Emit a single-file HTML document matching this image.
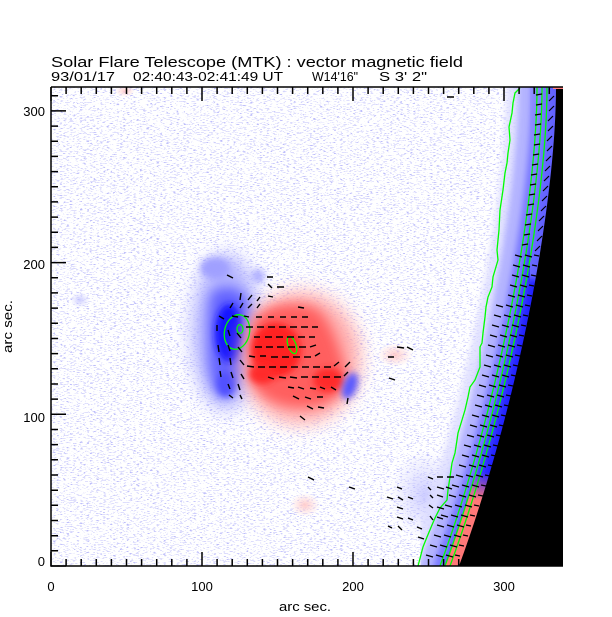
<!DOCTYPE html>
<html><head><meta charset="utf-8"><style>html,body{margin:0;padding:0;background:#fff}svg{display:block}</style></head>
<body>
<svg width="612" height="617" viewBox="0 0 612 617" xmlns="http://www.w3.org/2000/svg" font-family="'Liberation Sans', sans-serif">
<defs>
 <clipPath id="pc"><rect x="51" y="87" width="512" height="479"/></clipPath>
 <clipPath id="rc"><rect x="51" y="470" width="512" height="96"/></clipPath>
 <filter id="nz" filterUnits="userSpaceOnUse" x="51" y="87" width="512" height="479" color-interpolation-filters="sRGB">
  <feTurbulence type="fractalNoise" baseFrequency="0.3 1.1" numOctaves="2" seed="7"/>
  <feColorMatrix type="matrix" values="0 0 0 0 0.74  0 0 0 0 0.74  0 0 0 0 0.98  10 0 0 0 -5.9"/>
 </filter>
 <filter id="bl" x="-30%" y="-5%" width="160%" height="110%"><feGaussianBlur stdDeviation="3"/></filter>
 <filter id="b3" x="-50%" y="-50%" width="200%" height="200%"><feGaussianBlur stdDeviation="3.5"/></filter>
 <filter id="b5" x="-50%" y="-50%" width="200%" height="200%"><feGaussianBlur stdDeviation="6"/></filter>
 <filter id="b8" x="-50%" y="-50%" width="200%" height="200%"><feGaussianBlur stdDeviation="9"/></filter>
 <radialGradient id="gBL"><stop offset="0" stop-color="#c0c0ff" stop-opacity=".8"/><stop offset="1" stop-color="#d0d0ff" stop-opacity="0"/></radialGradient>
 <radialGradient id="gRL"><stop offset="0" stop-color="#ffc0c0" stop-opacity=".8"/><stop offset="1" stop-color="#ffd0d0" stop-opacity="0"/></radialGradient>
 <linearGradient id="gRS" gradientUnits="userSpaceOnUse" x1="0" y1="472" x2="0" y2="500"><stop offset="0" stop-color="#ff7878" stop-opacity="0"/><stop offset="1" stop-color="#ff7878"/></linearGradient>
</defs>

<rect x="0" y="0" width="612" height="617" fill="#fff"/>
<rect x="51" y="87" width="512" height="479" fill="#fff" filter="url(#nz)"/>

<g clip-path="url(#pc)">
 <!-- faint patches -->
 <ellipse cx="80" cy="300" rx="10" ry="8" fill="url(#gBL)"/>
 <ellipse cx="425" cy="495" rx="35" ry="45" fill="url(#gBL)"/>
 <ellipse cx="395" cy="355" rx="18" ry="12" fill="url(#gRL)"/>
 <ellipse cx="305" cy="505" rx="15" ry="12" fill="url(#gRL)"/>
 <ellipse cx="125" cy="91" rx="10" ry="6" fill="url(#gRL)"/>
 <!-- blue AR -->
 <ellipse cx="226" cy="332" rx="34" ry="78" fill="#b4b4ff" filter="url(#b8)"/>
 <ellipse cx="215" cy="268" rx="15" ry="11" fill="#a0a0ff" filter="url(#b3)"/>
 <ellipse cx="258" cy="276" rx="7" ry="7" fill="#b0b0ff" filter="url(#b3)"/>
 <path d="M212,292 C225,283 243,287 248,302 C252,320 250,348 243,368 C238,386 230,398 222,396 C212,392 208,370 208,345 C208,320 208,302 212,292 Z" fill="#6464ff" filter="url(#b5)"/>
 <ellipse cx="229" cy="333" rx="14" ry="29" fill="#1818ff" filter="url(#b3)"/>
 <ellipse cx="226" cy="384" rx="9" ry="13" fill="#5050ff" filter="url(#b3)"/>
 <!-- red AR -->
 <ellipse cx="300" cy="358" rx="60" ry="66" fill="#ffaaaa" filter="url(#b8)"/>
 <path d="M255,320 C262,305 295,300 315,308 C330,318 338,345 345,368 C348,390 333,405 310,407 C285,410 262,400 254,385 C249,360 250,335 255,320 Z" fill="#ff5e5e" filter="url(#b5)"/>
 <ellipse cx="276" cy="350" rx="25" ry="27" fill="#ff2020" filter="url(#b3)"/>
 <ellipse cx="262" cy="374" rx="13" ry="10" fill="#ff2a2a" filter="url(#b3)"/>
 <ellipse cx="328" cy="380" rx="15" ry="12" fill="#ff2a2a" filter="url(#b3)"/>
 <ellipse cx="350" cy="386" rx="7" ry="14" fill="#5a5aff" filter="url(#b3)" transform="rotate(20 350 386)"/>
 <!-- limb band -->
 <g filter="url(#bl)" fill="none" stroke-linejoin="round">
  <path d="M556,60 L556,87 C556,200 520,400 459,566 L452,590" stroke="#dcdcff" stroke-opacity=".8" stroke-width="100"/>
  <path d="M556,60 L556,87 C556,200 520,400 459,566 L452,590" stroke="#b4b4ff" stroke-width="76"/>
  <path d="M556,60 L556,87 C556,200 520,400 459,566 L452,590" stroke="#7c7cff" stroke-width="50"/>
  <path d="M556,60 L556,87 C556,200 520,400 459,566 L452,590" stroke="#3c3cff" stroke-width="28"/>
  <path d="M556,60 L556,87 C556,200 520,400 459,566 L452,590" stroke="#2020ff" stroke-width="12"/>
 </g>
 <path d="M556,60 L556,87 C556,160 548,230 536,280" fill="none" stroke="#8c8cff" stroke-opacity=".6" stroke-width="56" filter="url(#bl)"/>
 <g clip-path="url(#rc)">
  <path d="M556,60 L556,87 C556,200 520,400 459,566 L452,590" fill="none" stroke="url(#gRS)" stroke-width="26"/>
 </g>
 <path d="M556,87 C556,200 520,400 459,566 L563,566 L563,87 Z" fill="#000"/>
 <rect x="553" y="87" width="10" height="2" fill="#ff8080"/>
 <!-- green contours -->
 <g fill="none" stroke="#00ff00" stroke-width="1.3">
  <polyline points="520,88 515,93 513,103 512,113 509,127 510,140 508,153 507,163 505,173 503,190 500,210 499,230 497,250 498,260 493,277 492,287 488,297 486,307 485,317 483,333 482,343 480,347 480,367 475,380 470,387 468,397 465,410 462,420 458,433 457,440 455,453 452,463 450,477 448,490 447,500 440,508 435,518 432,525 427,537 423,547 418,566"/>
  <path d="M556,60 L556,87 C556,200 520,400 459,566 L452,590" transform="translate(-9,0)"/>
  <path d="M556,60 L556,87 C556,200 520,400 459,566 L452,590" transform="translate(-14,0)"/>
  <path d="M556,60 L556,87 C556,200 520,400 459,566 L452,590" transform="translate(-19,0)"/>
  <ellipse cx="237" cy="332" rx="12.5" ry="17.5" transform="rotate(12 237 332)"/>
  <ellipse cx="240" cy="329" rx="3" ry="4.5"/>
  <ellipse cx="292" cy="345" rx="4" ry="9" transform="rotate(-20 292 345)"/>
 </g>
 <!-- vectors -->
 <path fill="none" stroke="#000" stroke-width="1.4" d="
M227 275l6 3 M267 277l6 0 M268 284l4 4 M277 287l7 0 M241 293l-1 7 M252 295l-4 5 M260 297l-3 4 M268 296l5 1 M233 303l-3 5 M243 303l-3 5 M252 304l-4 4 M260 304l-3 4 M298 307l6 1
M219 316l5 3 M232 316l6 1 M244 316l5 1 M256 317l6 0 M268 317l6 0 M280 317l6 0 M291 317l6 0 M302 317l6 0
M246 327l7 0 M257 327l7 0 M268 327l7 0 M279 327l7 0 M290 327l7 0 M301 327l7 0 M312 327l6 0
M254 337l6 0 M265 337l7 0 M276 337l7 0 M287 337l7 0 M298 337l7 0 M309 337l6 0
M255 347l7 0 M266 347l7 0 M277 347l7 0 M288 347l7 0 M299 347l7 0 M310 347l6 -2
M249 356l6 1 M260 356l6 0 M271 357l7 0 M282 357l7 0 M293 357l7 0 M304 357l7 0 M315 356l5 -3
M247 366l7 1 M258 367l7 0 M269 367l7 0 M280 367l7 0 M291 367l7 0 M302 367l7 0 M313 367l7 0 M324 367l7 0 M334 366l5 -4
M268 377l6 2 M279 377l7 1 M290 377l7 1 M301 377l7 0 M312 377l7 0 M323 377l7 0 M334 377l7 0 M344 376l4 -4
M288 387l6 1 M298 387l6 2 M310 388l6 1 M320 387l5 2 M331 387l5 3
M293 396l6 3 M305 397l6 2 M317 397l6 0 M307 406l6 3 M318 407l6 1 M300 416l5 4
M217 325l0 6 M228 330l2 6 M237 333l4 5 M218 345l1 7 M228 345l2 6 M238 347l4 5 M219 358l1 7 M230 358l1 7 M240 360l4 5 M220 371l1 6 M231 372l2 6 M241 374l3 5 M228 384l2 5 M238 384l2 6 M229 395l4 3 M240 395l2 4
M397 347l7 1 M407 347l6 3 M388 357l6 0 M389 378l6 2 M348 398l-1 6 M350 362l-5 5
M308 477l6 3 M349 487l6 2 M397 487l5 2 M387 497l6 2 M398 497l5 3 M408 497l5 2 M397 507l6 2 M397 517l6 2 M408 518l5 2 M388 526l4 2 M398 526l4 4 M417 527l5 2 M418 537l6 2 M428 477l5 2 M437 477l6 0 M447 477l7 0 M428 487l3 3 M430 495l3 3 M429 505l4 3 M430 516l3 4 M437 487l7 2 M437 495l6 2 M437 507l7 2 M437 517l6 2 M446 487l6 2
M447 97l7 0"/>
 <path fill="none" stroke="#000" stroke-width="1.2" d="
M536 95l6 -1 M549 101l5 -5 M536 105l6 -1 M549 111l5 -5 M535 115l6 -1 M548 121l5 -5 M535 125l6 -1 M548 131l5 -5
M534 135l6 -1 M547 141l5 -5 M534 145l6 -1 M547 151l5 -5 M533 155l6 -1 M546 161l5 -5 M532 165l6 -1 M545 171l5 -5
M531 175l6 -1 M544 181l5 -5 M530 185l6 -1 M543 191l5 -5 M529 195l6 -1 M542 201l5 -5 M528 205l6 -1 M541 211l5 -5
M526 215l6 -1 M539 221l5 -5 M525 225l6 -1 M538 231l5 -5 M524 235l6 -1 M537 241l5 -5 M522 245l6 -1 M535 251l5 -5
M515 255l7 2 M525 255l7 2 M534 255l5 1
M513 265l7 2 M523 265l7 2 M532 265l5 1
M512 275l7 2 M522 275l7 2 M531 275l5 1
M510 285l7 2 M520 285l7 2 M529 285l5 1
M508 295l7 2 M518 295l7 2 M527 295l5 1
M496 305l7 2 M506 305l7 2 M516 305l7 2 M525 305l5 1
M494 315l7 2 M504 315l7 2 M514 315l7 2 M523 315l5 1
M492 325l7 2 M502 325l7 2 M512 325l7 2 M521 325l5 1
M490 335l7 2 M500 335l7 2 M510 335l7 2 M519 335l5 1
M488 345l7 2 M498 345l7 2 M508 345l7 2 M517 345l5 1
M486 355l7 2 M496 355l7 2 M506 355l7 2 M515 355l5 1
M484 365l7 2 M494 365l7 2 M504 365l7 2 M513 365l5 1
M482 375l7 2 M492 375l7 2 M502 375l7 2 M511 375l5 1
M479 385l7 2 M489 385l7 2 M499 385l7 2 M508 385l5 1
M477 395l7 2 M487 395l7 2 M497 395l7 2 M506 395l5 1
M475 405l7 2 M485 405l7 2 M495 405l7 2 M504 405l5 1
M472 415l7 2 M482 415l7 2 M492 415l7 2 M501 415l5 1
M470 425l7 2 M480 425l7 2 M490 425l7 2 M499 425l5 1
M467 435l7 2 M477 435l7 2 M487 435l7 2 M496 435l5 1
M464 445l7 2 M474 445l7 2 M484 445l7 2 M493 445l5 1
M462 455l7 2 M472 455l7 2 M482 455l7 2 M491 455l5 1
M459 465l7 2 M469 465l7 2 M479 465l7 2 M488 465l5 1
M456 475l7 2 M466 475l7 2 M476 475l7 2 M485 475l5 1
M452 485l7 2 M462 485l7 2 M472 485l7 2 M481 485l5 1
M449 495l7 2 M459 495l7 2 M469 495l7 2 M478 495l5 1
M445 505l7 2 M455 505l7 2 M465 505l7 2 M474 505l5 1
M441 515l7 2 M451 515l7 2 M461 515l7 2 M470 515l5 1
M437 525l7 2 M447 525l7 2 M457 525l7 2 M466 525l5 1
M434 535l7 2 M444 535l7 2 M454 535l7 2 M463 535l5 1
M430 545l7 2 M440 545l7 2 M450 545l7 2 M459 545l5 1
M426 555l7 2 M436 555l7 2 M446 555l7 2 M455 555l5 1"/>
</g>

<!-- axes -->
<g stroke="#000" stroke-width="1.5" fill="none">
 <path d="M51,87 L51,566 L563,566 M51,87 L563,87"/>
 <path d="M51,566v-14 M66.1,566v-7 M81.2,566v-7 M96.3,566v-7 M111.4,566v-7 M126.5,566v-7 M141.6,566v-7 M156.7,566v-7 M171.8,566v-7 M186.9,566v-7 M202,566v-14 M217.1,566v-7 M232.2,566v-7 M247.3,566v-7 M262.4,566v-7 M277.5,566v-7 M292.6,566v-7 M307.7,566v-7 M322.8,566v-7 M337.9,566v-7 M353,566v-14 M368.1,566v-7 M383.2,566v-7 M398.3,566v-7 M413.4,566v-7 M428.5,566v-7 M443.6,566v-7 M458.7,566v-7 M473.8,566v-7 M488.9,566v-7 M504,566v-14 M519.1,566v-7 M534.2,566v-7 M549.3,566v-7"/>
 <path d="M51,87v14 M66.1,87v7 M81.2,87v7 M96.3,87v7 M111.4,87v7 M126.5,87v7 M141.6,87v7 M156.7,87v7 M171.8,87v7 M186.9,87v7 M202,87v14 M217.1,87v7 M232.2,87v7 M247.3,87v7 M262.4,87v7 M277.5,87v7 M292.6,87v7 M307.7,87v7 M322.8,87v7 M337.9,87v7 M353,87v14 M368.1,87v7 M383.2,87v7 M398.3,87v7 M413.4,87v7 M428.5,87v7 M443.6,87v7 M458.7,87v7 M473.8,87v7 M488.9,87v7 M504,87v14 M519.1,87v7 M534.2,87v7 M549.3,87v7"/>
 <path d="M51,566h15 M51,550.8h7 M51,535.7h7 M51,520.5h7 M51,505.3h7 M51,490.2h7 M51,475h7 M51,459.8h7 M51,444.6h7 M51,429.5h7 M51,414.3h15 M51,399.1h7 M51,384h7 M51,368.8h7 M51,353.6h7 M51,338.5h7 M51,323.3h7 M51,308.1h7 M51,292.9h7 M51,277.8h7 M51,262.6h15 M51,247.4h7 M51,232.3h7 M51,217.1h7 M51,201.9h7 M51,186.8h7 M51,171.6h7 M51,156.4h7 M51,141.2h7 M51,126.1h7 M51,110.9h15 M51,95.7h7"/>
</g>

<!-- text -->
<g fill="#000">
 <text x="51" y="67" font-size="15" textLength="412" lengthAdjust="spacingAndGlyphs">Solar Flare Telescope (MTK) : vector magnetic field</text>
 <text x="51" y="81" font-size="13" textLength="64" lengthAdjust="spacingAndGlyphs">93/01/17</text>
 <text x="133" y="81" font-size="13" textLength="150" lengthAdjust="spacingAndGlyphs">02:40:43-02:41:49 UT</text>
 <text x="312" y="81" font-size="13" textLength="46" lengthAdjust="spacingAndGlyphs">W14'16"</text>
 <text x="379" y="81" font-size="13" textLength="48" lengthAdjust="spacingAndGlyphs">S 3' 2"</text>
 <g font-size="13" text-anchor="middle">
  <text x="51" y="591">0</text>
  <text x="202" y="591">100</text>
  <text x="353" y="591">200</text>
  <text x="504" y="591">300</text>
 </g>
 <g font-size="13" text-anchor="end">
  <text x="45" y="566">0</text>
  <text x="45" y="422">100</text>
  <text x="45" y="269">200</text>
  <text x="45" y="116">300</text>
 </g>
 <text x="279" y="611" font-size="13" textLength="52" lengthAdjust="spacingAndGlyphs">arc sec.</text>
 <text x="0" y="0" font-size="13" textLength="53" lengthAdjust="spacingAndGlyphs" transform="translate(12,353) rotate(-90)">arc sec.</text>
</g>
</svg>
</body></html>
